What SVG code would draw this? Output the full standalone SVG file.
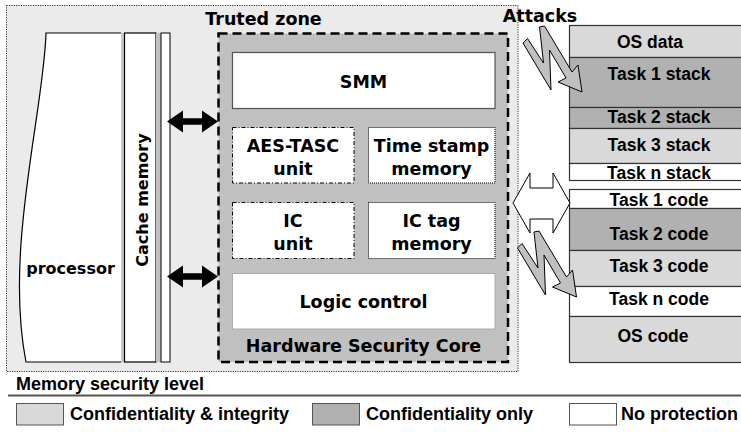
<svg xmlns="http://www.w3.org/2000/svg" xmlns:xlink="http://www.w3.org/1999/xlink" width="741" height="432" viewBox="0 0 741 432">
<style>
.v{font-family:"DejaVu Sans",Verdana,sans-serif;font-weight:bold;font-size:17.5px;fill:#000;text-anchor:middle}
.h{font-family:"Liberation Sans",Arial,sans-serif;font-weight:bold;font-size:17.5px;fill:#000;text-anchor:middle}
.lg{font-family:"Liberation Sans",Arial,sans-serif;font-weight:bold;font-size:18px;fill:#000}
.mem{stroke:#333;stroke-width:1.2}
.light{fill:#d9d9d9}
.dark{fill:#b1b1b1}
.white{fill:#fff}
.blk{fill:#000;stroke:none}
.bolt{fill:#c0c0c0;stroke:#000;stroke-width:1;stroke-linejoin:miter}
</style>
<defs>
<polygon id="bolt" class="bolt" points="523,43 527.5,38.5 543.5,63 539.5,27 544.5,26 572,72 578,65 582,92 558,82 566,78 549.5,50 551,90"/>
<polygon id="dbl" class="blk" points="167,0 183,-11 183,-3.2 202,-3.2 202,-11 218,0 202,11 202,3.2 183,3.2 183,11"/>
</defs>

<g id="trusted-zone">
<rect x="6.5" y="5.5" width="511.5" height="366" fill="#ebebeb" stroke="#333" stroke-width="1" stroke-dasharray="1.2,1.2"/>
<text class="v" x="263.5" y="24.5">Truted zone</text>
</g>

<g id="processor">
<path d="M46,33 C44,110 4,250 26,362 L121,362 L121,33 Z" fill="#fff" stroke="none"/>
<path d="M121,33 L46,33 C44,110 4,250 26,362 L121,362" fill="none" stroke="#000" stroke-width="1.2"/>
<rect x="121" y="33" width="3" height="329" fill="#c8c8c8"/>
<text class="v" x="70.5" y="273.5" style="font-size:16px">processor</text>
</g>

<g id="cache-memory">
<rect x="124.5" y="33" width="31.5" height="329" fill="#fff" stroke="#000" stroke-width="1.2"/>
<rect x="156" y="33" width="5" height="329" fill="#c0c0c0"/>
<rect x="161" y="33" width="9" height="329" fill="#fff" stroke="#000" stroke-width="1"/>
<text class="v" transform="translate(148,200) rotate(-90)" x="0" y="0" style="font-size:16px">Cache memory</text>
</g>

<g id="hardware-security-core">
<rect x="218.5" y="33.5" width="289.5" height="328.5" fill="#c0c0c0" stroke="#000" stroke-width="2.5" stroke-dasharray="9,5"/>
<text class="v" x="363.5" y="351.5">Hardware Security Core</text>
</g>

<g id="smm">
<rect x="232.5" y="52.5" width="262.5" height="56" fill="#fff" stroke="#555" stroke-width="1.2"/>
<text class="v" x="363.5" y="88">SMM</text>
</g>

<g id="aes-tasc-unit">
<rect x="232.5" y="127.5" width="121.5" height="55.5" fill="#fff" stroke="#000" stroke-width="1" stroke-dasharray="4,2,1,2"/>
<text class="v" x="293" y="151.5">AES-TASC</text>
<text class="v" x="293" y="175">unit</text>
</g>

<g id="time-stamp-memory">
<rect x="368.5" y="127.5" width="126.5" height="55.5" fill="#fff" stroke="#000" stroke-width="1" stroke-dasharray="1,1"/>
<text class="v" x="431.5" y="151.5">Time stamp</text>
<text class="v" x="431.5" y="175">memory</text>
</g>

<g id="ic-unit">
<rect x="232.5" y="202.5" width="121.5" height="56" fill="#fff" stroke="#000" stroke-width="1" stroke-dasharray="4,2,1,2"/>
<text class="v" x="293" y="226.5">IC</text>
<text class="v" x="293" y="249.5">unit</text>
</g>

<g id="ic-tag-memory">
<rect x="368.5" y="202.5" width="126.5" height="56" fill="#fff" stroke="#000" stroke-width="1" stroke-dasharray="1,1"/>
<text class="v" x="431.5" y="226.5">IC tag</text>
<text class="v" x="431.5" y="249.5">memory</text>
</g>

<g id="logic-control">
<rect x="232.5" y="273.5" width="262.5" height="55.5" fill="#fff" stroke="#aaa" stroke-width="1"/>
<text class="v" x="363.5" y="307.5">Logic control</text>
</g>

<g id="attacks-label">
<text class="v" x="540" y="21.5">Attacks</text>
</g>

<g id="memory">
<rect class="mem light" x="569.5" y="25.5" width="180" height="32"/>
<rect class="mem dark" x="569.5" y="57.5" width="180" height="50"/>
<rect class="mem dark" x="569.5" y="107.5" width="180" height="21"/>
<rect class="mem light" x="569.5" y="128.5" width="180" height="35"/>
<rect class="mem white" x="569.5" y="163.5" width="180" height="17"/>
<rect class="mem white" x="569.5" y="189.5" width="180" height="19"/>
<rect class="mem dark" x="569.5" y="208.5" width="180" height="42"/>
<rect class="mem light" x="569.5" y="250.5" width="180" height="36"/>
<rect class="mem white" x="569.5" y="286.5" width="180" height="30"/>
<rect class="mem light" x="569.5" y="316.5" width="180" height="46"/>
<text class="h" x="650" y="48">OS data</text>
<text class="h" x="659" y="80">Task 1 stack</text>
<text class="h" x="659" y="122.5">Task 2 stack</text>
<text class="h" x="659" y="150.5">Task 3 stack</text>
<text class="h" x="659" y="178.5">Task n stack</text>
<text class="h" x="659" y="206">Task 1 code</text>
<text class="h" x="659" y="239.5">Task 2 code</text>
<text class="h" x="659" y="272">Task 3 code</text>
<text class="h" x="659" y="305">Task n code</text>
<text class="h" x="653" y="342">OS code</text>
</g>

<g id="connectors">
<use xlink:href="#dbl" href="#dbl" transform="translate(0,121.5)"/>
<use xlink:href="#dbl" href="#dbl" transform="translate(0,276.5)"/>
<polygon points="513,203 530,173 530,188 553,188 553,173 570,203 553,233 553,219 530,219 530,233" fill="#fff" stroke="#000" stroke-width="1"/>
<use xlink:href="#bolt" href="#bolt"/>
<use xlink:href="#bolt" href="#bolt" transform="translate(-5.5,205)"/>
</g>

<g id="legend">
<text class="lg" x="16" y="390">Memory security level</text>
<line x1="8" y1="395.5" x2="741" y2="395.5" stroke="#555" stroke-width="1.8"/>
<rect x="16.5" y="403.5" width="47" height="21.5" fill="#d9d9d9" stroke="#555" stroke-width="1"/>
<text class="lg" x="70" y="420">Confidentiality &amp; integrity</text>
<rect x="312.5" y="403.5" width="47" height="21.5" fill="#b1b1b1" stroke="#555" stroke-width="1"/>
<text class="lg" x="366" y="420">Confidentiality only</text>
<rect x="569.5" y="403.5" width="47" height="21.5" fill="#fff" stroke="#555" stroke-width="1"/>
<text class="lg" x="621" y="420">No protection</text>
</g>
</svg>
